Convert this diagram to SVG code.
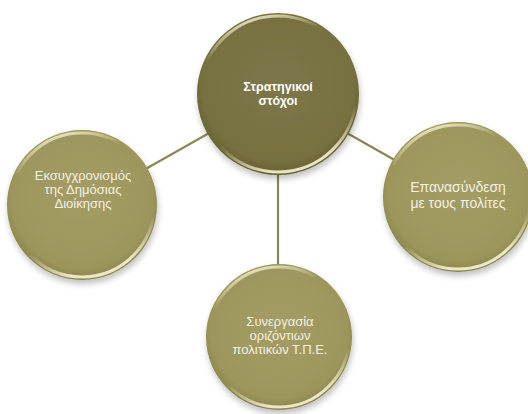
<svg xmlns="http://www.w3.org/2000/svg" width="528" height="414" viewBox="0 0 528 414">
<style>
.conn{stroke:#8b8556;stroke-width:2.2;fill:none}
.lbl{font-family:"Liberation Sans",Arial,sans-serif;fill:#ffffff;text-anchor:middle}
.lbl-c{font-size:12.5px;font-weight:bold}
.lbl-o{font-size:13px;fill:#f4f1e2}
.rim{fill:none;stroke:url(#rimGrad);stroke-width:3}
</style>
<defs>
<radialGradient id="centerFill" cx="50%" cy="45%" r="55%">
<stop offset="0" stop-color="#7d7649"/>
<stop offset="0.85" stop-color="#77703f"/>
<stop offset="1" stop-color="#66602f"/>
</radialGradient>
<radialGradient id="outerFill" cx="50%" cy="45%" r="55%">
<stop offset="0" stop-color="#a39c65"/>
<stop offset="0.85" stop-color="#9d965c"/>
<stop offset="1" stop-color="#8a8449"/>
</radialGradient>
<linearGradient id="rimGrad" x1="0.3" y1="0" x2="0.6" y2="1">
<stop offset="0" stop-color="#f3eed0" stop-opacity="0.95"/>
<stop offset="0.2" stop-color="#f3eed0" stop-opacity="0"/>
<stop offset="0.72" stop-color="#f3eed0" stop-opacity="0"/>
<stop offset="0.95" stop-color="#f6f1d4" stop-opacity="0.9"/>
</linearGradient>
<filter id="shadow" x="-20%" y="-20%" width="140%" height="150%">
<feGaussianBlur in="SourceAlpha" stdDeviation="3"/>
<feOffset dx="1" dy="4" result="b"/>
<feComponentTransfer><feFuncA type="linear" slope="0.25"/></feComponentTransfer>
<feMerge><feMergeNode/><feMergeNode in="SourceGraphic"/></feMerge>
</filter>
</defs>
<rect width="528" height="414" fill="#ffffff"/>
<g id="connectors">
<line class="conn" x1="278" y1="94" x2="82" y2="205"/>
<line class="conn" x1="278" y1="94" x2="460" y2="197"/>
<line class="conn" x1="278" y1="94" x2="278" y2="336"/>
</g>
<g id="node-center">
<circle cx="278" cy="94" r="81" fill="url(#centerFill)" filter="url(#shadow)"/>
<circle class="rim" cx="278" cy="94" r="78"/>
<text class="lbl lbl-c" x="278" y="91">Στρατηγικοί</text>
<text class="lbl lbl-c" x="278" y="105">στόχοι</text>
</g>
<g id="node-left">
<circle cx="82" cy="205" r="75" fill="url(#outerFill)" filter="url(#shadow)"/>
<circle class="rim" cx="82" cy="205" r="72"/>
<text class="lbl lbl-o" x="83" y="180">Εκσυγχρονισμός</text>
<text class="lbl lbl-o" x="83" y="194">της Δημόσιας</text>
<text class="lbl lbl-o" x="83" y="208">Διοίκησης</text>
</g>
<g id="node-right">
<circle cx="458" cy="197" r="75" fill="url(#outerFill)" filter="url(#shadow)"/>
<circle class="rim" cx="458" cy="197" r="72"/>
<text class="lbl lbl-o" x="458" y="192" style="font-size:14px">Επανασύνδεση</text>
<text class="lbl lbl-o" x="458" y="208" style="font-size:14px">με τους πολίτες</text>
</g>
<g id="node-bottom">
<circle cx="279" cy="337" r="73" fill="url(#outerFill)" filter="url(#shadow)"/>
<circle class="rim" cx="279" cy="337" r="70"/>
<text class="lbl lbl-o" x="280" y="326">Συνεργασία</text>
<text class="lbl lbl-o" x="280" y="340">οριζόντιων</text>
<text class="lbl lbl-o" x="280" y="354">πολιτικών Τ.Π.Ε.</text>
</g>
</svg>
